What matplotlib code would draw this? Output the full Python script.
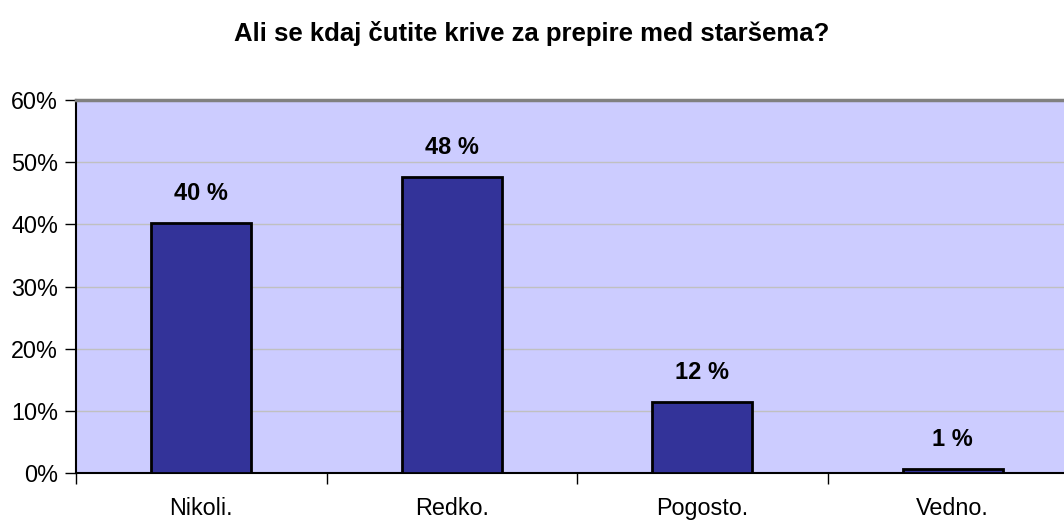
import matplotlib
matplotlib.use("Agg")
import matplotlib.pyplot as plt
from matplotlib.ticker import FixedLocator, PercentFormatter

categories = ["Nikoli.", "Redko.", "Pogosto.", "Vedno."]
values = [40.2, 47.6, 11.4, 0.6]
labels = ["40 %", "48 %", "12 %", "1 %"]
yticks = [0, 10, 20, 30, 40, 50, 60]

plt.rcParams['font.family'] = ['Liberation Sans', 'DejaVu Sans']

fig = plt.figure(figsize=(10.64, 5.2), dpi=100)
ax = fig.add_axes([76/1064, 47/520, 1002/1064, 373/520])
ax.set_facecolor('#ccccff')
x = list(range(len(categories)))
ax.bar(x, values, width=0.40, color='#333399', edgecolor='black', linewidth=2, zorder=3)
ax.set_xlim(-0.5, 3.5)
ax.set_ylim(0, 60)
ax.yaxis.set_major_locator(FixedLocator(yticks))
ax.yaxis.set_major_formatter(PercentFormatter(decimals=0))
ax.grid(axis='y', color='#c0c0c0', linewidth=1, zorder=1)
ax.set_axisbelow(True)

ax.set_xticks([-0.5, 0.5, 1.5, 2.5])
ax.set_xticklabels([])
ax.set_xticks(x, minor=True)
ax.set_xticklabels(categories, minor=True, fontsize=16.8)
ax.tick_params(axis='x', which='minor', length=0, pad=17)
ax.tick_params(axis='x', which='major', length=8, width=1, direction='out', color='black')
ax.tick_params(axis='y', length=8, width=1, labelsize=16.8, pad=5)

ax.spines['top'].set_color('#808080')
ax.spines['top'].set_linewidth(2.5)
ax.spines['right'].set_visible(False)
ax.spines['left'].set_color('black')
ax.spines['left'].set_linewidth(1.5)
ax.spines['bottom'].set_color('black')
ax.spines['bottom'].set_linewidth(1.5)

for xi, v, lab in zip(x, values, labels):
    ax.annotate(lab, (xi, v), xytext=(0, 13), textcoords='offset points',
                ha='center', va='bottom', fontsize=17, fontweight='bold')

fig.text(532/1064, 1 - 34/520, "Ali se kdaj čutite krive za prepire med staršema?",
         ha='center', va='center', fontsize=18.5, fontweight='bold')

fig.savefig('out.png', dpi=100)
